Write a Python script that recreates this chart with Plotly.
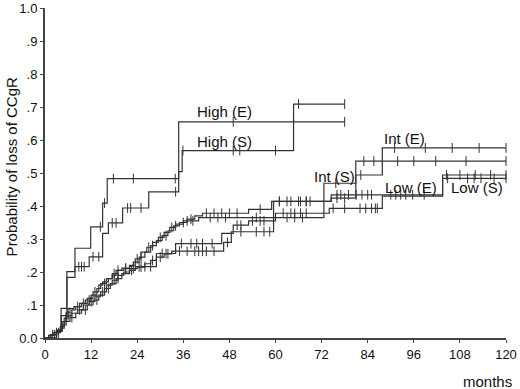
import numpy as np
import plotly.graph_objects as go

# ---- data (months, cumulative probability) ----
high_e_t = [0, 3.0, 4.2, 5.7, 7.8, 11.9, 15.0, 16.2, 34.8, 78.0]
high_e_p = [0, 0.023, 0.090, 0.201, 0.272, 0.337, 0.409, 0.483, 0.655, 0.655]
high_e_cens = [14.4, 15.5, 17.8, 23.0, 33.9, 49.0, 78.0]

high_s_t = [0, 3.0, 4.2, 5.7, 7.8, 11.5, 15.0, 16.5, 20.2, 27.0, 34.8, 35.7, 64.7, 78.0]
high_s_p = [0, 0.023, 0.068, 0.184, 0.216, 0.246, 0.317, 0.349, 0.394, 0.443, 0.504, 0.568, 0.709, 0.709]
high_s_cens = [8.8, 9.5, 10.2, 12.5, 14.0, 17.5, 18.5, 21.5, 22.3, 25.0, 34.0, 35.9, 49.0, 50.7, 60.0, 66.0, 78.0]

int_s_t = [0, 1.0, 2.0, 3.5, 4.5, 5.5, 7.0, 8.0, 9.5, 11.0, 12.5, 14.0, 15.0, 16.5, 17.5, 19.0, 20.5, 22.0,
           23.5, 25.0, 26.5, 28.0, 29.5, 31.0, 32.5, 34.0, 36.0, 40.0, 72.6, 80.9, 120.0]
int_s_p = [0, 0.008, 0.016, 0.025, 0.05, 0.078, 0.085, 0.095, 0.105, 0.12, 0.14, 0.16, 0.17, 0.18, 0.195, 0.205,
           0.21, 0.22, 0.24, 0.26, 0.275, 0.29, 0.305, 0.32, 0.335, 0.345, 0.355, 0.365, 0.469, 0.536, 0.536]
int_s_cens = [3, 6.5, 10, 13, 18, 21, 24, 27, 30, 33, 37, 38.5, 43, 45, 47, 55, 63, 65, 67, 75.7, 83, 85.6,
              91.8, 96, 101.7, 109.6, 120]

int_e_t = [0, 1.5, 3.0, 4.0, 5.0, 6.0, 7.5, 9.0, 10.5, 12.0, 13.5, 14.5, 16.0, 17.5, 18.5, 20.0, 22.0, 23.0,
           24.5, 26.0, 27.5, 29.0, 30.5, 32.0, 33.5, 35.0, 37.0, 39.0, 41.0, 53.0, 59.0, 74.5, 80.9, 87.8, 120.0]
int_e_p = [0, 0.01, 0.02, 0.035, 0.06, 0.089, 0.095, 0.105, 0.115, 0.13, 0.15, 0.165, 0.18, 0.19, 0.205, 0.212,
           0.218, 0.23, 0.245, 0.26, 0.28, 0.295, 0.31, 0.325, 0.34, 0.35, 0.36, 0.37, 0.378, 0.39, 0.414, 0.424,
           0.494, 0.576, 0.576]
int_e_cens = [2, 5.5, 8.5, 11.5, 15.5, 19, 21, 25, 28, 31.5, 34, 36, 38, 42, 44, 46, 48, 50, 56, 61, 64, 66, 68,
              76, 78, 82.2, 91, 99, 106, 113, 120]

low_s_t = [0, 1.0, 2.5, 4.0, 5.0, 6.5, 8.0, 9.5, 11.0, 12.5, 14.0, 15.5, 17.0, 18.5, 20.0, 22.0, 23.5, 29.0,
           34.0, 46.0, 49.0, 53.0, 60.0, 74.0, 87.8, 103.5, 120.0]
low_s_p = [0, 0.008, 0.016, 0.03, 0.05, 0.062, 0.075, 0.085, 0.1, 0.115, 0.13, 0.15, 0.165, 0.18, 0.195, 0.205,
           0.216, 0.256, 0.286, 0.317, 0.342, 0.355, 0.378, 0.393, 0.43, 0.484, 0.484]
low_s_cens = [3.5, 7, 10.5, 13.5, 16.5, 19, 22.5, 24.5, 26, 27.5, 30.5, 31.5, 35.5, 38, 39.5, 41, 43.5, 50, 51,
              54, 56, 57, 62, 64, 65, 66.5, 68, 75, 78, 82, 83.5, 85, 86, 86.5, 104.8, 110, 111.7, 113.5,
              116.9, 120]

low_e_t = [0, 1.5, 3.0, 4.5, 5.5, 7.0, 8.5, 10.0, 11.5, 13.0, 14.5, 16.0, 17.5, 19.0, 20.5, 22.0, 24.0, 26.0,
           27.5, 29.0, 31.0, 33.0, 46.5, 48.5, 59.5, 74.5, 103.5, 120.0]
low_e_p = [0, 0.01, 0.02, 0.04, 0.067, 0.075, 0.085, 0.1, 0.11, 0.125, 0.14, 0.16, 0.175, 0.19, 0.2, 0.21,
           0.215, 0.225, 0.235, 0.245, 0.255, 0.263, 0.29, 0.322, 0.414, 0.434, 0.494, 0.494]
low_e_cens = [2.5, 6, 9, 12, 15, 18, 23, 25, 28, 30, 32, 35, 37, 39, 40, 41, 42, 44, 47.5, 51, 55, 57, 58.5,
              61, 63, 66.5, 68, 69, 76, 77, 79, 81, 82.5, 84, 85, 90, 91.3, 92.6, 93.9, 95.7, 98.7, 104.5,
              108, 112, 116, 120]

curve_labels = ["High (E)", "High (S)", "Int (E)", "Int (S)", "Low (E)", "Low (S)"]
label_x = [46.7, 46.7, 93.5, 75.3, 95.2, 112.5]
label_y = [0.685, 0.595, 0.606, 0.489, 0.457, 0.457]

x_ticks = list(range(0, 121, 12))
y_ticks = [round(0.1 * i, 1) for i in range(11)]
y_ticktext = ["0.0", ".1", ".2", ".3", ".4", ".5", ".6", ".7", ".8", ".9", "1.0"]

LINE = "#333333"
FONT = "Liberation Sans, Arial, sans-serif"

curves = [
    (high_e_t, high_e_p, high_e_cens),
    (high_s_t, high_s_p, high_s_cens),
    (int_e_t, int_e_p, int_e_cens),
    (int_s_t, int_s_p, int_s_cens),
    (low_e_t, low_e_p, low_e_cens),
    (low_s_t, low_s_p, low_s_cens),
]

fig = go.Figure()
for t, p, cens in curves:
    fig.add_trace(go.Scatter(x=t, y=p, mode="lines", line=dict(color=LINE, width=1.2, shape="hv"),
                             hoverinfo="skip", showlegend=False, cliponaxis=False))
    t_arr = np.array(t)
    p_arr = np.array(p)
    idx = np.searchsorted(t_arr, np.array(cens), side="right") - 1
    cy = p_arr[np.clip(idx, 0, len(p_arr) - 1)]
    fig.add_trace(go.Scatter(x=cens, y=cy, mode="markers",
                             marker=dict(symbol="line-ns-open", size=7, color=LINE,
                                         line=dict(color=LINE, width=1)),
                             hoverinfo="skip", showlegend=False, cliponaxis=False))

for txt, lx, ly in zip(curve_labels, label_x, label_y):
    fig.add_annotation(x=lx, y=ly, text=txt, showarrow=False, xref="x", yref="y",
                       xanchor="center", yanchor="middle",
                       font=dict(family=FONT, size=15, color="#111"))

fig.add_annotation(x=-0.0738, y=0.52, xref="paper", yref="paper", text="Probability of loss of CCgR",
                   textangle=-90, showarrow=False, xanchor="center", yanchor="middle",
                   font=dict(family=FONT, size=15, color="#111"))
fig.add_annotation(x=0.96, y=-0.132, xref="paper", yref="paper", text="months", showarrow=False,
                   xanchor="center", yanchor="middle",
                   font=dict(family=FONT, size=15, color="#111"))

fig.update_layout(
    width=520, height=389,
    margin=dict(l=45, r=14, t=8, b=51, autoexpand=False),
    plot_bgcolor="white", paper_bgcolor="white",
    font=dict(family=FONT, size=13, color="#111"),
    xaxis=dict(range=[0, 120], tickvals=x_ticks, showgrid=False, zeroline=False, showline=True,
               linecolor="#444", linewidth=2, ticks="outside", ticklen=3, tickcolor="#444",
               tickfont=dict(size=13), automargin=False),
    yaxis=dict(range=[0, 1], tickvals=y_ticks, ticktext=y_ticktext, showgrid=False, zeroline=False,
               showline=True, linecolor="#444", linewidth=2, ticks="outside", ticklen=3, tickcolor="#444",
               tickfont=dict(size=13), automargin=False),
)

fig.write_html("out.html", config={"displayModeBar": False},
               post_script="document.body.style.margin='0';document.body.style.overflow='hidden';")
